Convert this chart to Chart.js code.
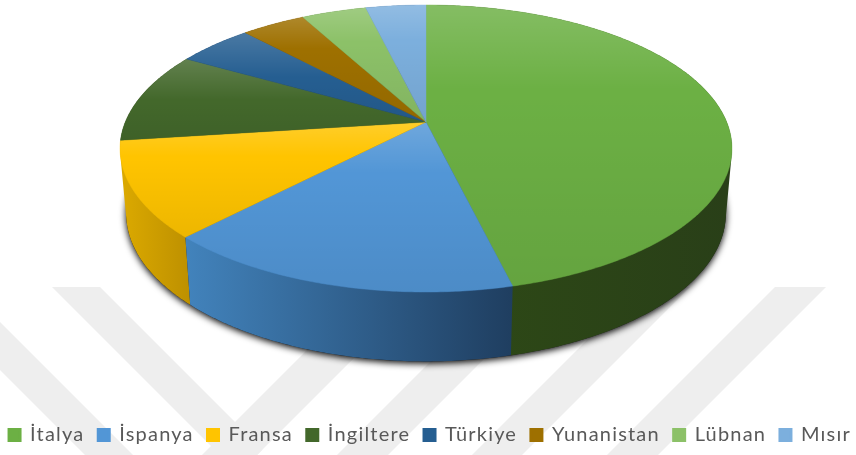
<!DOCTYPE html>
<html>
<head>
<meta charset="utf-8">
<style>html,body{margin:0;padding:0;background:#fff}canvas{display:block}</style>
<script src="https://cdn.jsdelivr.net/npm/chart.js@4/dist/chart.umd.min.js"></script>
</head>
<body>
<canvas id="c" width="856" height="455" style="width:856px;height:455px"></canvas>
<script>
const categories = ['İtalya','İspanya','Fransa','İngiltere','Türkiye','Yunanistan','Lübnan','Mısır'];
const values = [46.2,16.0,10.75,10.3,4.8,4.05,4.1,3.8];
const colors = ['#6cb044','#5296d6','#ffc400','#43682b','#255e91','#9e7000','#8cc168','#7cafdd'];
const wallLeft  = ['#2e4a16','#4283bc','#dcaa00','#2a4214','#16385a','#5e4300','#547440','#4a6a86'];
const wallRight = ['#293f18','#1f3e60','#bd9000','#2a4214','#16385a','#5e4300','#547440','#4a6a86'];

// perspective projection of the pie's top and bottom discs
const P = {cx:426, a:0.1847, top:{y:122, rx:300.7, ry:138.6}, bot:{y:186, rx:294.7, ry:143}};
function proj(plane, ang){
  const u=Math.cos(ang), v=Math.sin(ang), w=1-P.a*v;
  return [P.cx+plane.rx*u/w, plane.y+plane.ry*v/w];
}
function arcPts(plane, a0, a1){
  const n=Math.max(2,Math.ceil(Math.abs(a1-a0)/0.01)), pts=[];
  for(let i=0;i<=n;i++) pts.push(proj(plane,a0+(a1-a0)*i/n));
  return pts;
}
function trace(ctx, pts){
  pts.forEach((p,i)=>{ if(i===0) ctx.moveTo(p[0],p[1]); else ctx.lineTo(p[0],p[1]); });
}
function hull(points){
  const p=points.slice().sort((a,b)=>a[0]-b[0]||a[1]-b[1]);
  const cross=(o,a,b)=>(a[0]-o[0])*(b[1]-o[1])-(a[1]-o[1])*(b[0]-o[0]);
  const lo=[],up=[];
  p.forEach(q=>{while(lo.length>1&&cross(lo[lo.length-2],lo[lo.length-1],q)<=0)lo.pop();lo.push(q);});
  p.slice().reverse().forEach(q=>{while(up.length>1&&cross(up[up.length-2],up[up.length-1],q)<=0)up.pop();up.push(q);});
  lo.pop();up.pop();
  return lo.concat(up);
}
const stripesDown=[[187,235],[322,370]];
const stripesUp=[[657,712],[792,843],[927,977],[1062,1113]];
const SPACING='1.2px';

const pie3d = {
  id:'pie3d',
  beforeLayout(chart){ chart.ctx.letterSpacing=SPACING; },
  beforeDraw(chart){
    const ctx=chart.ctx, W=chart.width, H=chart.height;
    ctx.letterSpacing=SPACING;
    ctx.save();
    ctx.beginPath(); ctx.rect(0,287,W,H-287); ctx.clip();
    ctx.fillStyle='#eeeeee';
    stripesDown.forEach(([d0,d1],i)=>{
      const lim=stripesUp[i][1];       // each "\" ends on its "/" partner
      ctx.beginPath();
      ctx.moveTo((lim-d0)/2,(lim+d0)/2);
      ctx.lineTo(-300,d0-300);
      ctx.lineTo(-300,d1-300);
      ctx.lineTo((lim-d1)/2,(lim+d1)/2);
      ctx.closePath(); ctx.fill();
    });
    stripesUp.forEach(([s0,s1])=>{
      ctx.beginPath();
      ctx.moveTo(s0-287,287); ctx.lineTo(s1-287,287);
      ctx.lineTo(s1-H,H); ctx.lineTo(s0-H,H);
      ctx.closePath(); ctx.fill();
    });
    ctx.restore();
  },
  beforeDatasetDraw(chart,args){
    const ctx=chart.ctx, arcs=args.meta.data;
    ctx.save();
    // drop shadow cast by the bottom disc
    ctx.save();
    ctx.shadowColor='rgba(0,0,0,1)'; ctx.shadowBlur=7; ctx.shadowOffsetX=0; ctx.shadowOffsetY=2;
    ctx.fillStyle='#222';
    ctx.beginPath(); trace(ctx,arcPts(P.bot,0,Math.PI*2)); ctx.closePath(); ctx.fill();
    ctx.restore();
    // walls, back to front; the hull's inner side is hidden by the top faces
    const order=arcs.map((a,i)=>i).sort((i,j)=>{
      const m=k=>Math.sin((arcs[k].startAngle+arcs[k].endAngle)/2);
      return m(i)-m(j);
    });
    order.forEach(i=>{
      const a=arcs[i], pts=arcPts(P.top,a.startAngle,a.endAngle).concat(arcPts(P.bot,a.startAngle,a.endAngle));
      const xs=pts.map(p=>p[0]), g=ctx.createLinearGradient(Math.min(...xs),0,Math.max(...xs),0);
      g.addColorStop(0,wallLeft[i]); g.addColorStop(1,wallRight[i]);
      ctx.fillStyle=g;
      ctx.beginPath(); trace(ctx,hull(pts)); ctx.closePath(); ctx.fill();
    });
    // top faces with per-slice sheen
    arcs.forEach((a,i)=>{
      const pts=[[P.cx,P.top.y]].concat(arcPts(P.top,a.startAngle,a.endAngle));
      const ys=pts.map(p=>p[1]), y0=Math.min(...ys), y1=Math.max(...ys);
      ctx.beginPath(); trace(ctx,pts); ctx.closePath();
      ctx.fillStyle=colors[i]; ctx.fill();
      ctx.strokeStyle=colors[i]; ctx.lineWidth=0.4; ctx.stroke();
      const g=ctx.createLinearGradient(0,y0,0,y1), s=(y1-y0)<100?0.5:0.3;
      g.addColorStop(0,'rgba(255,255,255,0.17)');
      g.addColorStop(s,'rgba(255,255,255,0)');
      g.addColorStop(s+0.01,'rgba(0,0,0,0)');
      g.addColorStop(1,'rgba(0,0,0,0.07)');
      ctx.beginPath(); trace(ctx,pts); ctx.closePath();
      ctx.fillStyle=g; ctx.fill();
    });
    ctx.restore();
    return false;
  }
};

new Chart(document.getElementById('c'),{
  type:'pie',
  data:{labels:categories,datasets:[{data:values,backgroundColor:colors,borderColor:colors,borderWidth:3}]},
  options:{
    responsive:false,animation:false,
    layout:{padding:{bottom:0,left:-28,right:-32}},
    plugins:{
      tooltip:{enabled:false},
      legend:{position:'bottom',labels:{boxWidth:11,boxHeight:11,padding:13.8,color:'#595959',font:{family:'Lato',size:20}}}
    }
  },
  plugins:[pie3d]
});
</script>
</body>
</html>
